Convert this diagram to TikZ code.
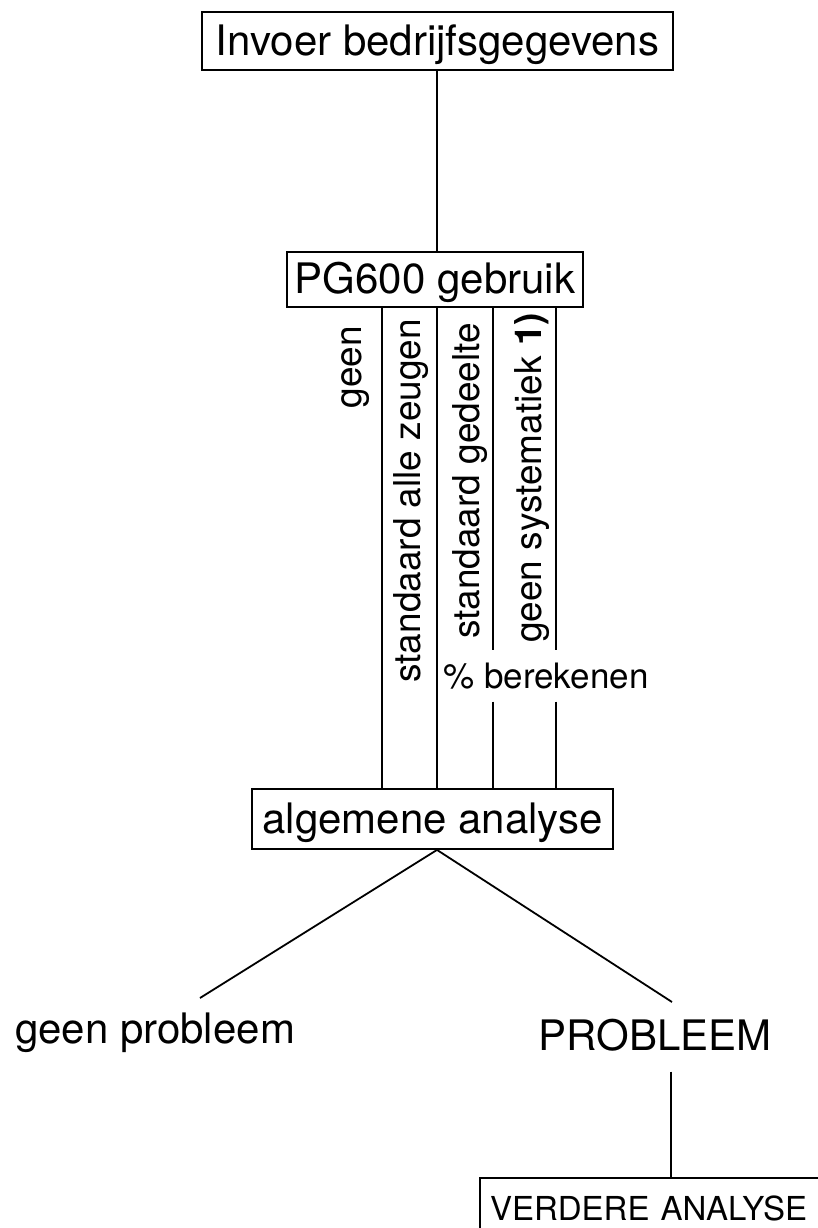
\documentclass[tikz,border=0pt]{standalone}
\usepackage{fontspec}
\setmainfont{TeX Gyre Heros}

\begin{document}
\begin{tikzpicture}[x=0.5pt, y=-0.5pt, line width=0.9pt,
  big/.style={font=\fontsize{21}{25}\selectfont},
  box/.style={draw, big, inner sep=0pt, text height=14pt, text depth=0pt},
  lbl/.style={rotate=90, anchor=east, inner sep=0pt, font=\fontsize{18.5}{22}\selectfont}]
\useasboundingbox (0,0) rectangle (818,1228);
\node (inv) [box, minimum width=235.5pt, minimum height=29pt] at (437.5,41) {Invoer bedrijfsgegevens};
\node (pg) [box, minimum width=148pt, minimum height=27.5pt] at (435,279.5) {PG600 gebruik};
\node (aa) [box, minimum width=180.5pt, minimum height=30pt] at (432.5,819) {algemene analyse};
\node (va) [box, minimum height=30pt, inner xsep=5pt, text width=181pt, align=left, text height=12pt, font=\fontsize{16.5}{20}\selectfont] at (671,1208) {VERDERE ANALYSE};
\node (g0) [lbl] at (356,325) {geen};
\node (g1) [lbl] at (411,318) {standaard alle zeugen};
\node (g2) [lbl] at (470,322) {standaard gedeelte};
\node (g3) [lbl] at (532,312) {geen systematiek \textbf{1)}};
\node (pct) [anchor=base, inner xsep=0pt, inner ysep=6pt, font=\fontsize{17.5}{21}\selectfont] at (546,688) {\% berekenen};
\node (gp) [big, anchor=base] at (155,1043) {geen probleem};
\node (prb) [big, anchor=base, inner ysep=10pt] at (655,1050) {PROBLEEM};
\coordinate (l1) at (382,0);
\coordinate (l2) at (437,0);
\coordinate (l3) at (493,0);
\coordinate (l4) at (556,0);
\coordinate (lend) at (200,998);
\coordinate (rend) at (672,1002);
\draw (inv.south -| l2) -- (pg.north -| l2);
\draw (l1 |- pg.south) -- (l1 |- aa.north);
\draw (l2 |- pg.south) -- (l2 |- aa.north);
\foreach \l in {l3,l4} {
  \draw (\l |- pg.south) -- (\l |- pct.north);
  \draw (\l |- pct.south) -- (\l |- aa.north);
}
\draw (l2 |- aa.south) -- (lend);
\draw (l2 |- aa.south) -- (rend);
\draw (prb.south -| va.north) -- (va.north);
\end{tikzpicture}
\end{document}
